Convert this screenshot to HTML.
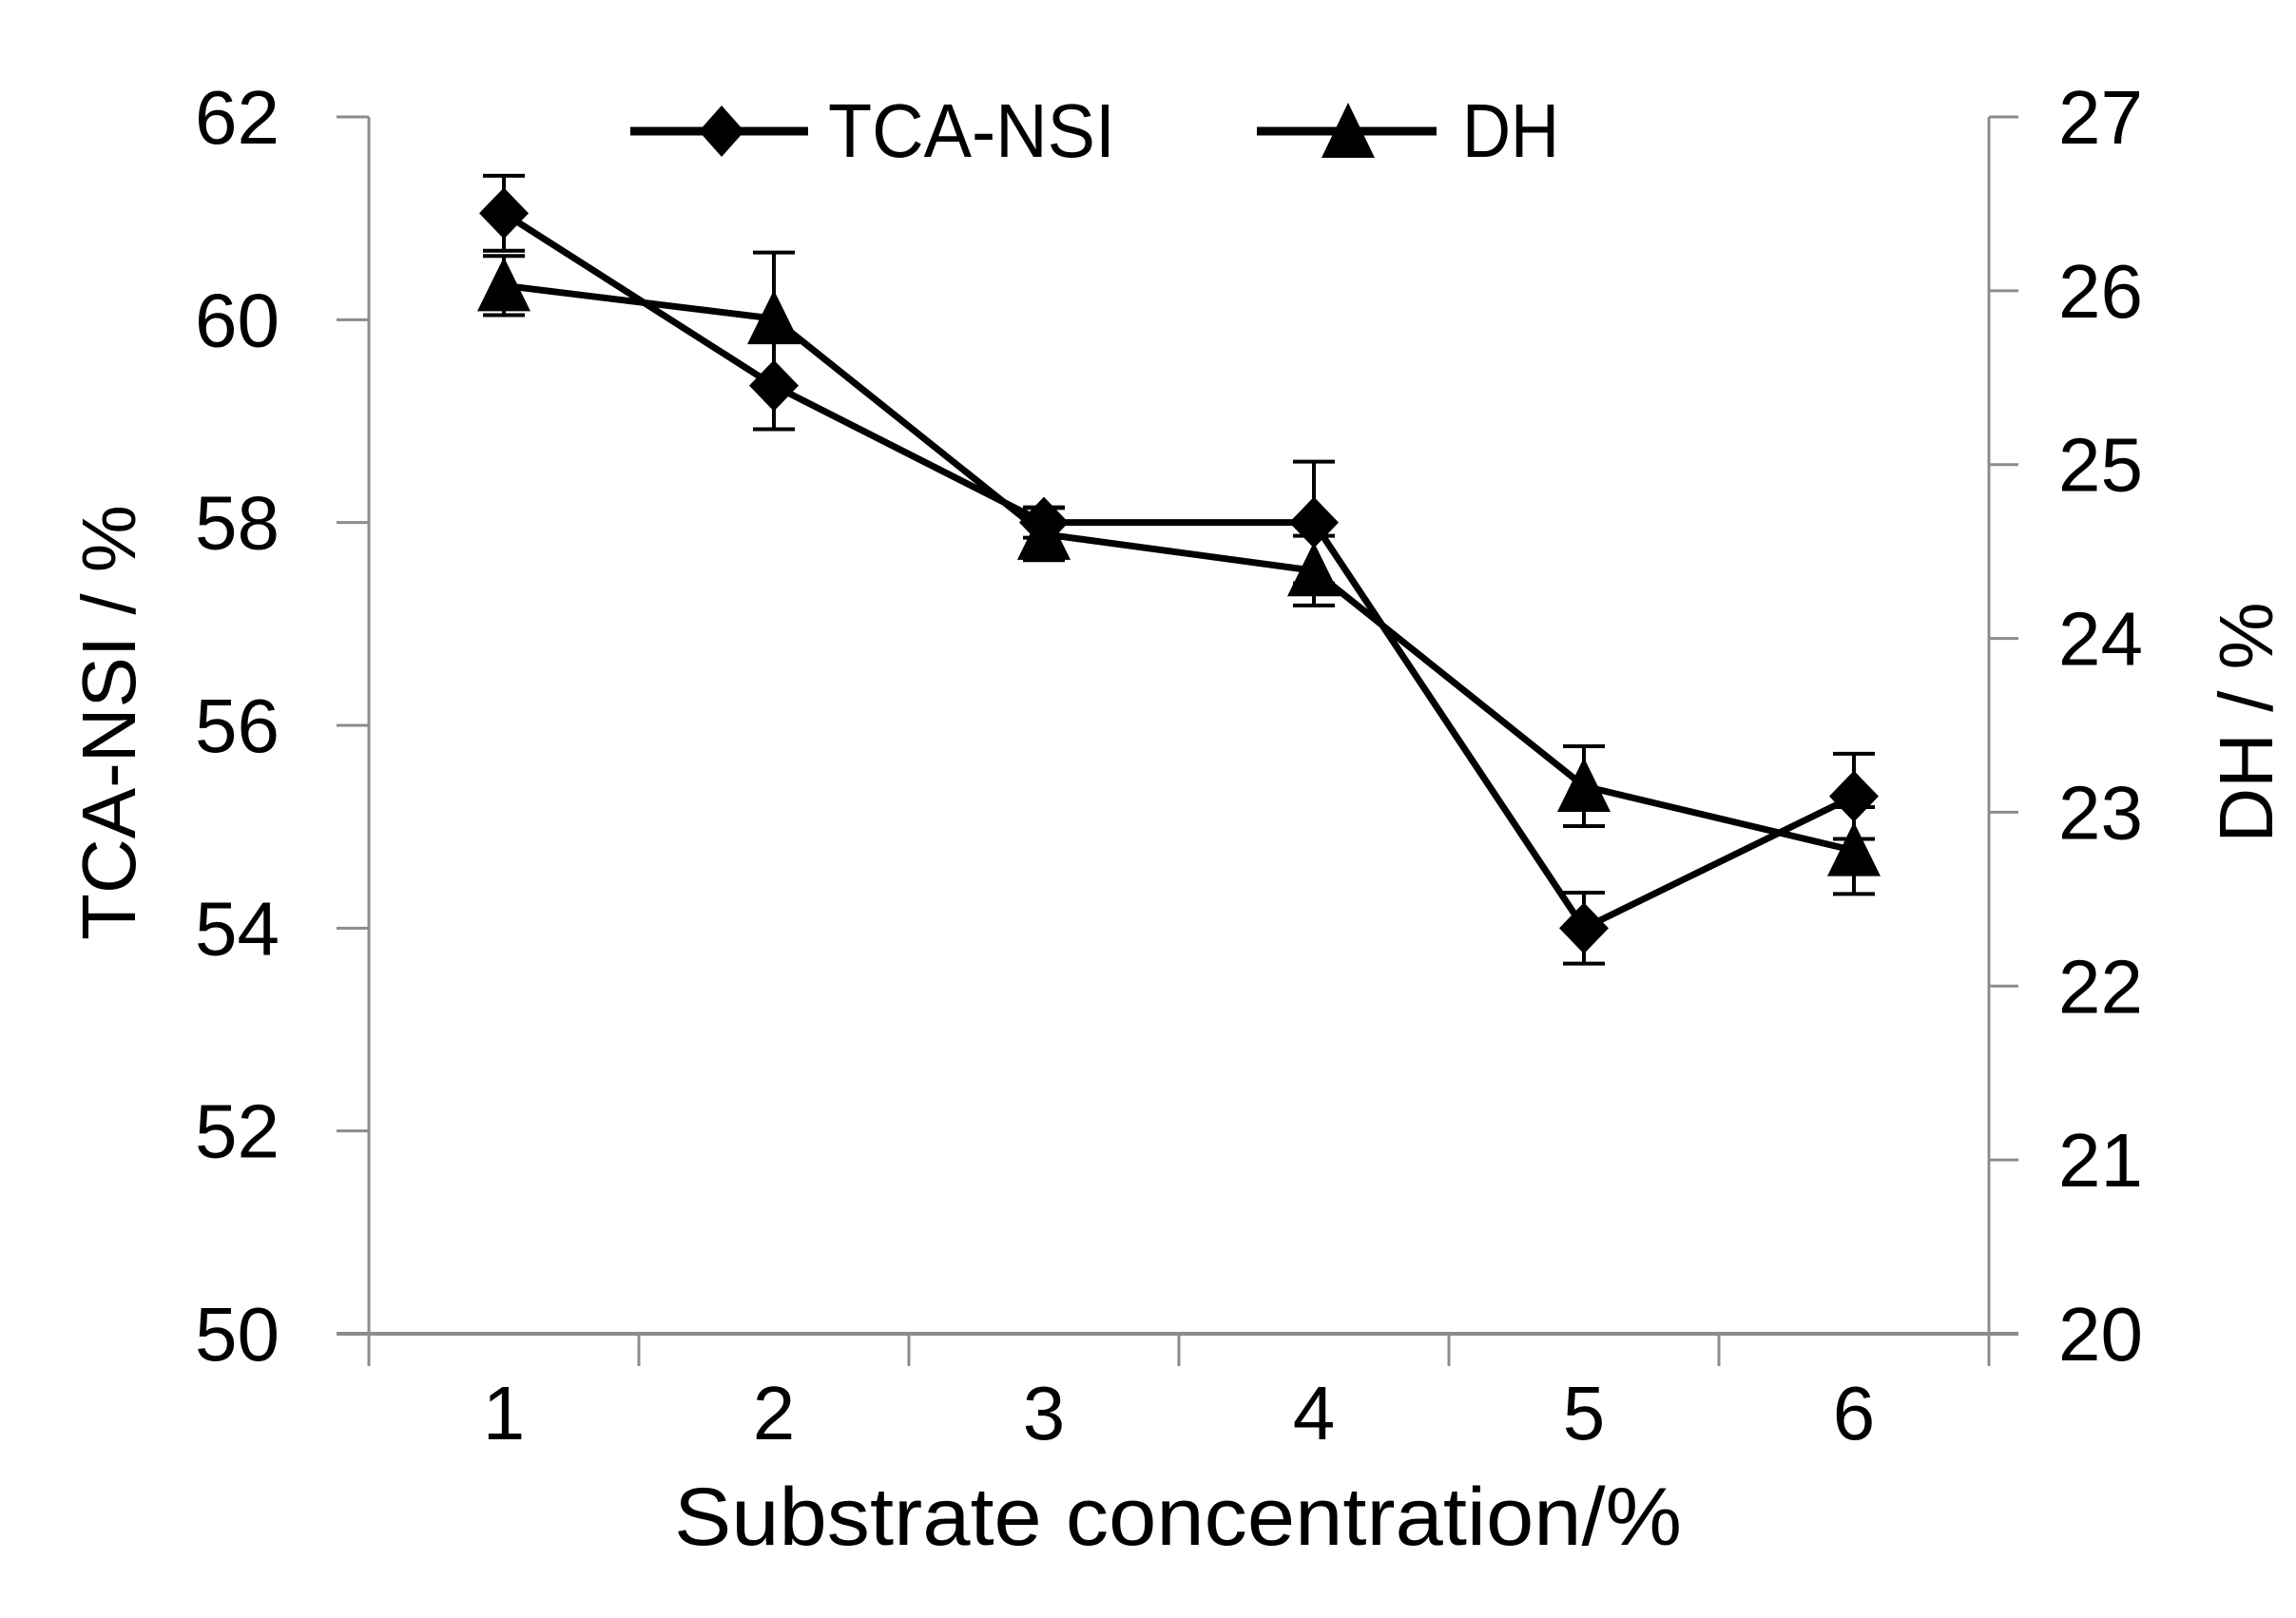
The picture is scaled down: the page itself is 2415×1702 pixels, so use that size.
<!DOCTYPE html>
<html><head><meta charset="utf-8"><style>
html,body{margin:0;padding:0;background:#fff;}
svg{display:block;}
text{font-family:"Liberation Sans",sans-serif;fill:#000;}
</style></head><body>
<svg id="chart" width="2415" height="1702" viewBox="0 0 2415 1702" xmlns="http://www.w3.org/2000/svg">
<g id="axes"></g>
<g id="series"></g>
<g id="legend">
  <line x1="663" y1="138" x2="850" y2="138" stroke="#000" stroke-width="9"/>
  <polygon points="759,111 783,138 759,165 735,138" fill="#000"/>
  <text x="871" y="165" font-size="80" textLength="302" lengthAdjust="spacingAndGlyphs">TCA-NSI</text>
  <line x1="1322" y1="138" x2="1511" y2="138" stroke="#000" stroke-width="9"/>
  <polygon points="1418,108 1446,166 1390,166" fill="#000"/>
  <text x="1538" y="165" font-size="80" textLength="102" lengthAdjust="spacingAndGlyphs">DH</text>
</g>
<text x="1239" y="1625" font-size="86" text-anchor="middle" textLength="1060" lengthAdjust="spacingAndGlyphs">Substrate concentration/%</text>
<text transform="translate(142,760) rotate(-90)" font-size="80" text-anchor="middle">TCA-NSI / %</text>
<text transform="translate(2390,760) rotate(-90)" font-size="80" text-anchor="middle">DH / %</text>
</svg>
<script>
const categories = ["1","2","3","4","5","6"];
const tcaValues = [61.05, 59.35, 58.0, 58.0, 54.0, 55.3];
const tcaErrors = [0.37, 0.43, 0.15, 0.6, 0.35, 0.42];
const dhValues = [26.03, 25.84, 24.6, 24.39, 23.15, 22.78];
const dhErrors = [0.17, 0.38, 0.15, 0.2, 0.23, 0.25];
const leftTicks = [50, 52, 54, 56, 58, 60, 62];
const rightTicks = [20, 21, 22, 23, 24, 25, 26, 27];

const NS = "http://www.w3.org/2000/svg";
const X0 = 388, X1 = 2092, Y0 = 1403, Y1 = 123;
const yL = v => Y0 - (v - 50) / 12 * (Y0 - Y1);
const yR = v => Y0 - (v - 20) / 7 * (Y0 - Y1);
const band = (X1 - X0) / categories.length;
const xC = i => X0 + band * (i + 0.5);

function mk(tag, attrs, parent) {
  const e = document.createElementNS(NS, tag);
  for (const k in attrs) e.setAttribute(k, attrs[k]);
  parent.appendChild(e);
  return e;
}
const axes = document.getElementById('axes');
const series = document.getElementById('series');
const AX = "#8c8c8c";

let e;
e = mk('line', {x1: X0, y1: Y1, x2: X0, y2: Y0, stroke: AX, 'stroke-width': 3}, axes);


e = mk('line', {x1: X1, y1: Y1, x2: X1, y2: Y0, stroke: AX, 'stroke-width': 3}, axes);


e = mk('line', {x1: 354, y1: Y0, x2: 2123, y2: Y0, stroke: AX, 'stroke-width': 4}, axes);



leftTicks.forEach(v => {
  const y = yL(v);
  let t = mk('line', {x1: 354, y1: y, x2: X0, y2: y, stroke: AX, 'stroke-width': 3}, axes);
  
  
  t = mk('text', {x: 294, y: y + 28, 'font-size': 80, 'text-anchor': 'end'}, axes);
  t.textContent = v;
  
  
});
rightTicks.forEach(v => {
  const y = yR(v);
  let t = mk('line', {x1: X1, y1: y, x2: 2123, y2: y, stroke: AX, 'stroke-width': 3}, axes);
  
  
  t = mk('text', {x: 2165, y: y + 28, 'font-size': 80}, axes);
  t.textContent = v;
  
  
});
for (let i = 0; i <= categories.length; i++) {
  const x = X0 + band * i;
  const t = mk('line', {x1: x, y1: Y0, x2: x, y2: 1437, stroke: AX, 'stroke-width': 3}, axes);
  
  
}
categories.forEach((c, i) => {
  const t = mk('text', {x: xC(i), y: 1514, 'font-size': 80, 'text-anchor': 'middle'}, axes);
  t.textContent = c;
  
  
});

function drawSeries(vals, errs, yf, name, marker) {
  const pts = vals.map((v, i) => xC(i) + ',' + yf(v)).join(' ');
  const l = mk('polyline', {points: pts, fill: 'none', stroke: '#000', 'stroke-width': 7, 'stroke-linejoin': 'round'}, series);
  
  
  vals.forEach((v, i) => {
    const x = xC(i), y = yf(v), yt = yf(v + errs[i]), yb = yf(v - errs[i]);
    const g = mk('g', {}, series);
    
    
    mk('line', {x1: x, y1: yt, x2: x, y2: yb, stroke: '#000', 'stroke-width': 4}, g);
    mk('line', {x1: x - 22, y1: yt, x2: x + 22, y2: yt, stroke: '#000', 'stroke-width': 4}, g);
    mk('line', {x1: x - 22, y1: yb, x2: x + 22, y2: yb, stroke: '#000', 'stroke-width': 4}, g);
    let m;
    if (marker === 'diamond') {
      m = mk('polygon', {points: `${x},${y-27} ${x+26},${y} ${x},${y+27} ${x-26},${y}`, fill: '#000'}, series);
    } else {
      m = mk('polygon', {points: `${x},${y-30} ${x+28},${y+27} ${x-28},${y+27}`, fill: '#000'}, series);
    }
    
    
  });
}
drawSeries(tcaValues, tcaErrors, yL, 'tca-nsi', 'diamond');
drawSeries(dhValues, dhErrors, yR, 'dh', 'triangle');
</script>
</body></html>
